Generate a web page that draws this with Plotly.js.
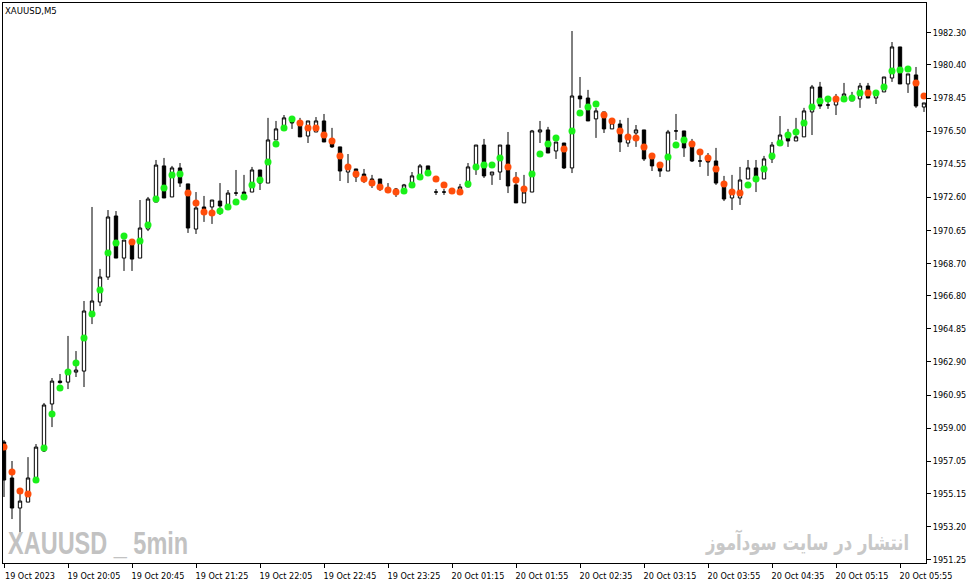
<!DOCTYPE html>
<html>
<head>
<meta charset="utf-8">
<script src="https://cdn.plot.ly/plotly-3.0.1.min.js"></script>
<style>
  html, body { margin: 0; padding: 0; background: #fff; }
  #chart { width: 972px; height: 584px; }
</style>
</head>
<body>
<div id="chart"></div>
<script>
// XAUUSD M5, 19 Oct 2023 19:25 onwards, one entry per 5 minute bar
let open = [
  1958.18, 1956.06, 1954.29, 1954.64, 1955.94, 1957.65, 1960.42, 1961.77, 1961.71, 1962.30,
  1962.36, 1965.72, 1966.43, 1967.90, 1971.50, 1969.02, 1969.97, 1969.02, 1970.73, 1972.32,
  1974.45, 1972.62, 1974.33, 1973.39, 1970.73, 1972.03, 1972.03, 1972.38, 1972.03, 1972.85,
  1972.91, 1972.91, 1974.21, 1973.44, 1975.98, 1976.69, 1977.28, 1976.98, 1976.21, 1976.45,
  1977.10, 1975.80, 1975.57, 1974.09, 1974.27, 1973.97, 1973.68, 1973.68, 1973.15, 1973.09,
  1972.97, 1973.39, 1973.92, 1974.45, 1972.91, 1972.91, 1972.97, 1973.03, 1973.21, 1974.39,
  1975.68, 1973.92, 1974.09, 1975.68, 1973.33, 1972.27, 1972.91, 1976.45, 1976.57, 1975.33,
  1975.80, 1974.33, 1978.57, 1978.45, 1977.22, 1977.63, 1976.63, 1976.92, 1975.80, 1976.39,
  1976.57, 1974.92, 1974.45, 1974.15, 1976.51, 1976.51, 1975.68, 1974.74, 1974.80, 1974.74,
  1973.44, 1972.56, 1972.56, 1973.68, 1974.33, 1973.68, 1974.86, 1975.68, 1976.27, 1975.92,
  1976.16, 1977.63, 1979.10, 1978.04, 1978.04, 1978.34, 1978.28, 1978.40, 1979.16, 1978.45,
  1978.81, 1979.63, 1981.46, 1979.28, 1979.81, 1977.92
];
let high = [
  1958.30, 1957.06, 1955.17, 1957.29, 1958.06, 1960.48, 1961.95, 1962.19, 1964.43, 1963.54,
  1966.49, 1972.03, 1968.38, 1971.85, 1971.79, 1970.08, 1969.97, 1972.44, 1972.62, 1974.80,
  1974.92, 1974.45, 1974.62, 1973.39, 1972.91, 1972.68, 1972.44, 1973.44, 1973.03, 1974.21,
  1973.92, 1974.39, 1974.21, 1977.28, 1977.10, 1977.45, 1977.39, 1977.28, 1977.10, 1977.33,
  1977.51, 1976.69, 1975.57, 1975.15, 1974.27, 1974.27, 1973.92, 1973.68, 1973.44, 1973.15,
  1973.39, 1974.09, 1974.56, 1974.45, 1973.09, 1973.09, 1973.03, 1973.39, 1974.62, 1975.68,
  1976.04, 1974.09, 1975.68, 1976.45, 1974.09, 1973.92, 1976.57, 1977.10, 1976.75, 1975.86,
  1975.80, 1982.40, 1979.69, 1978.93, 1977.87, 1977.63, 1977.16, 1977.16, 1977.28, 1976.86,
  1976.57, 1974.92, 1974.45, 1976.57, 1977.51, 1976.51, 1976.04, 1975.21, 1975.21, 1975.51,
  1973.86, 1973.92, 1974.39, 1974.80, 1974.80, 1975.04, 1975.86, 1977.39, 1976.63, 1977.28,
  1977.87, 1979.22, 1979.40, 1978.51, 1978.69, 1979.34, 1978.81, 1979.34, 1979.34, 1978.81,
  1979.69, 1981.75, 1981.46, 1979.87, 1980.28, 1978.16
];
let low = [
  1954.94, 1953.64, 1952.87, 1954.64, 1955.94, 1957.59, 1959.06, 1961.62, 1961.30, 1962.01,
  1961.42, 1965.13, 1966.19, 1967.73, 1969.02, 1968.26, 1968.26, 1969.02, 1970.61, 1972.32,
  1972.56, 1972.62, 1973.21, 1970.50, 1970.44, 1971.15, 1971.03, 1971.56, 1972.03, 1972.68,
  1972.80, 1972.91, 1973.03, 1973.44, 1975.98, 1976.69, 1976.63, 1976.16, 1975.80, 1976.45,
  1975.86, 1975.51, 1973.56, 1973.44, 1973.50, 1973.44, 1973.15, 1972.97, 1972.85, 1972.62,
  1972.97, 1973.39, 1973.92, 1974.15, 1972.74, 1972.74, 1972.91, 1972.91, 1973.21, 1973.92,
  1973.74, 1973.33, 1973.62, 1972.85, 1972.27, 1972.27, 1972.91, 1975.80, 1975.21, 1974.86,
  1974.27, 1974.03, 1977.87, 1977.10, 1976.10, 1976.39, 1976.63, 1975.27, 1975.57, 1975.57,
  1974.74, 1974.15, 1973.80, 1974.15, 1975.98, 1974.98, 1974.68, 1974.39, 1973.86, 1973.33,
  1972.38, 1971.85, 1972.15, 1973.68, 1972.91, 1973.68, 1974.62, 1975.68, 1975.57, 1975.92,
  1976.16, 1976.27, 1977.81, 1977.81, 1977.45, 1978.34, 1978.28, 1977.87, 1978.45, 1978.10,
  1978.81, 1979.40, 1979.28, 1978.75, 1977.87, 1977.63
];
let close = [
  1955.94, 1954.29, 1954.70, 1956.06, 1957.88, 1960.36, 1961.77, 1961.68, 1962.30, 1962.42,
  1965.90, 1966.49, 1967.90, 1971.44, 1969.02, 1970.08, 1968.96, 1970.79, 1972.50, 1974.50,
  1972.56, 1974.33, 1973.44, 1970.79, 1971.97, 1971.91, 1972.44, 1972.09, 1972.85, 1972.85,
  1972.80, 1974.21, 1973.44, 1975.98, 1976.63, 1977.28, 1976.98, 1976.16, 1977.10, 1977.10,
  1975.86, 1975.57, 1974.15, 1974.50, 1973.80, 1973.62, 1973.44, 1973.21, 1973.15, 1972.97,
  1973.33, 1973.86, 1974.45, 1974.15, 1972.91, 1972.91, 1972.97, 1973.21, 1974.39, 1975.68,
  1973.86, 1974.09, 1975.68, 1973.27, 1972.27, 1972.91, 1976.51, 1976.57, 1975.21, 1975.86,
  1974.33, 1978.57, 1978.40, 1977.10, 1977.69, 1976.63, 1976.98, 1975.86, 1976.27, 1976.57,
  1974.86, 1974.45, 1974.15, 1976.45, 1976.51, 1975.51, 1974.74, 1974.74, 1974.68, 1973.44,
  1972.50, 1972.85, 1973.62, 1974.33, 1973.80, 1974.86, 1975.68, 1976.27, 1975.92, 1976.16,
  1977.69, 1979.10, 1977.98, 1978.04, 1978.51, 1978.69, 1978.45, 1979.16, 1978.45, 1978.81,
  1979.69, 1981.46, 1979.28, 1979.87, 1977.98, 1978.16
];

// indicator dots, g = up (green), o = down (orange)
let dots = [
  1957.88, 1956.41, 1955.29, 1955.11, 1955.94, 1957.82, 1959.83, 1961.36, 1962.30, 1962.83,
  1964.31, 1965.72, 1967.14, 1969.32, 1969.91, 1970.32, 1969.97, 1970.03, 1970.97, 1972.50,
  1973.15, 1973.92, 1973.97, 1972.85, 1972.27, 1971.74, 1971.68, 1971.79, 1972.03, 1972.32,
  1972.62, 1973.33, 1973.62, 1974.68, 1975.74, 1976.69, 1977.22, 1976.98, 1976.69, 1976.69,
  1976.27, 1975.92, 1975.04, 1974.39, 1973.97, 1973.68, 1973.44, 1973.21, 1973.03, 1972.91,
  1972.97, 1973.33, 1973.80, 1974.03, 1973.68, 1973.33, 1972.97, 1972.91, 1973.39, 1974.39,
  1974.50, 1974.50, 1974.92, 1974.39, 1973.62, 1973.09, 1973.97, 1975.15, 1975.74, 1976.10,
  1975.45, 1976.51, 1977.57, 1977.92, 1978.10, 1977.45, 1977.10, 1976.51, 1976.16, 1976.10,
  1975.57, 1975.04, 1974.50, 1974.98, 1975.68, 1975.98, 1975.74, 1975.27, 1974.92, 1974.27,
  1973.39, 1972.91, 1972.85, 1973.33, 1973.68, 1974.27, 1975.04, 1975.80, 1976.27, 1976.45,
  1976.98, 1977.92, 1978.28, 1978.40, 1978.40, 1978.40, 1978.45, 1978.75, 1978.75, 1978.75,
  1979.10, 1980.05, 1980.10, 1980.16, 1979.34, 1978.57
];
let dotSide = (
  'oooogggggggggggg' + 'ogggggg' + 'oooo' + 'gggggggggg' + 'ooooooooooooo' +
  'gggg' + 'oooo' + 'ggggg' + 'ooo' + 'gggg' + 'o' + 'gggg' + 'oooooooo' + 'ggg' +
  'ooooooo' + 'ggggggggggg' + 'o' + 'ggg' + 'o' + 'ggggg' + 'oo'
).split('');

let timeLabels = [
  '19 Oct 2023', '19 Oct 20:05', '19 Oct 20:45', '19 Oct 21:25', '19 Oct 22:05',
  '19 Oct 22:45', '19 Oct 23:25', '20 Oct 01:15', '20 Oct 01:55', '20 Oct 02:35',
  '20 Oct 03:15', '20 Oct 03:55', '20 Oct 04:35', '20 Oct 05:15', '20 Oct 05:55'
];
let priceTicks = [
  1982.30, 1980.40, 1978.45, 1976.50, 1974.55, 1972.60, 1970.65, 1968.70, 1966.80,
  1964.85, 1962.90, 1960.95, 1959.00, 1957.05, 1955.15, 1953.20, 1951.25
];

let barIdx = open.map((v, i) => i);
let tickIdx = timeLabels.map((t, k) => k * 8);

let tickFont = { family: 'DejaVu Sans Condensed, DejaVu Sans, Liberation Sans, sans-serif', size: 9, color: '#000' };

let candles = {
  type: 'candlestick',
  x: barIdx,
  open: open,
  high: high,
  low: low,
  close: close,
  line: { width: 1 },
  whiskerwidth: 0,
  increasing: { line: { color: '#000', width: 1 }, fillcolor: '#fff' },
  decreasing: { line: { color: '#000', width: 1 }, fillcolor: '#000' },
  hoverinfo: 'skip',
  showlegend: false
};

let signal = {
  type: 'scatter',
  mode: 'markers',
  x: barIdx,
  y: dots,
  marker: {
    size: 7,
    color: dotSide.map(s => s === 'g' ? '#19f019' : '#ff4d0a'),
    line: { width: 0 }
  },
  hoverinfo: 'skip',
  showlegend: false
};

let layout = {
  width: 972,
  height: 584,
  margin: { l: 3, r: 46, t: 3, b: 21, pad: 0 },
  paper_bgcolor: '#fff',
  plot_bgcolor: '#fff',
  boxgap: 0.4,
  showlegend: false,
  title: {
    text: 'XAUUSD,M5',
    font: { family: 'DejaVu Sans Condensed, DejaVu Sans, sans-serif', size: 9.5, color: '#000' },
    x: 5 / 972, xanchor: 'left', xref: 'container',
    y: 1 - 11 / 584, yanchor: 'middle', yref: 'container'
  },
  xaxis: {
    range: [-0.125, 115.25],
    rangeslider: { visible: false },
    showgrid: false,
    zeroline: false,
    showline: true,
    linecolor: '#000',
    linewidth: 1,
    mirror: true,
    tickmode: 'array',
    tickvals: tickIdx,
    ticktext: timeLabels,
    ticks: 'outside',
    ticklen: 4,
    tickcolor: '#000',
    ticklabelshift: 26,
    tickfont: tickFont,
    fixedrange: true
  },
  yaxis: {
    side: 'right',
    range: [1951.05, 1984.05],
    showgrid: false,
    zeroline: false,
    showline: true,
    linecolor: '#000',
    linewidth: 1,
    mirror: true,
    tickmode: 'array',
    tickvals: priceTicks,
    ticktext: priceTicks.map(v => v.toFixed(2)),
    ticks: 'outside',
    ticklen: 4,
    tickcolor: '#000',
    tickfont: tickFont,
    fixedrange: true
  },
  annotations: [
    {
      text: '<b>XAUUSD _ 5min</b>',
      xref: 'paper', yref: 'paper',
      x: 0.003, y: 0, xanchor: 'left', yanchor: 'bottom',
      showarrow: false,
      font: { family: 'Liberation Sans, Arial, sans-serif', size: 23.5, color: '#c2c2c2' }
    },
    {
      text: '<b>انتشار در سایت سودآموز</b>',
      xref: 'paper', yref: 'paper',
      x: 0.984, y: 0.008, xanchor: 'right', yanchor: 'bottom',
      showarrow: false,
      font: { family: 'DejaVu Sans, Noto Sans, sans-serif', size: 16.5, color: '#c8c8c8' }
    }
  ]
};

// the watermark fonts in the terminal are taller and narrower, stretch them vertically
function stretchText(idx, sy) {
  let t = document.querySelectorAll('#chart .annotation-text')[idx];
  if (!t) return;
  let b = t.getBBox();
  let by = b.y + b.height;
  t.setAttribute('transform', 'translate(0,' + by + ') scale(1,' + sy + ') translate(0,' + (-by) + ')');
}

Plotly.newPlot('chart', [candles, signal], layout, { displayModeBar: false, staticPlot: true })
  .then(() => {
    stretchText(0, 1.35);
    stretchText(1, 1.3);
  });
</script>
</body>
</html>
